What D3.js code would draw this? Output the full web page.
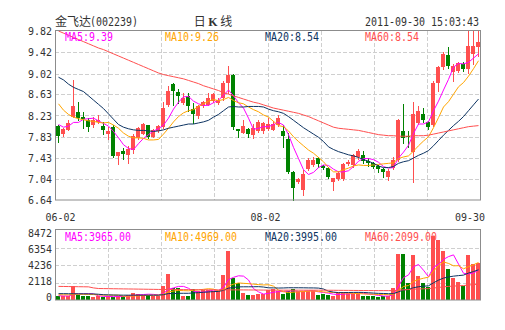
<!DOCTYPE html>
<html>
<head>
<meta charset="utf-8">
<script src="https://cdn.jsdelivr.net/npm/d3@7"></script>
<style>
  body { margin: 0; background: #fff; }
  svg { display: block; }
</style>
</head>
<body>
<svg id="chart" width="505" height="330"></svg>
<script>
// ---- data: 金飞达 (002239) daily K line, 2011-06-02 .. 2011-09-30 ----
const dates = [
  "06-02","06-03","06-07","06-08","06-09","06-10","06-13","06-14","06-15","06-16",
  "06-17","06-20","06-21","06-22","06-23","06-24","06-27","06-28","06-29","06-30",
  "07-01","07-04","07-05","07-06","07-07","07-08","07-11","07-12","07-13","07-14",
  "07-15","07-18","07-19","07-20","07-21","07-22","07-25","07-26","07-27","07-28",
  "07-29","08-01","08-02","08-03","08-04","08-05","08-08","08-09","08-10","08-11",
  "08-12","08-15","08-16","08-17","08-18","08-19","08-22","08-23","08-24","08-25",
  "08-26","08-29","08-30","08-31","09-01","09-02","09-05","09-06","09-07","09-08",
  "09-09","09-13","09-14","09-15","09-16","09-19","09-20","09-21","09-22","09-23",
  "09-26","09-27","09-28","09-29","09-30"
];
const open = [
  8.04,7.89,7.96,8.21,8.30,8.21,8.14,8.05,8.11,8.04,
  7.88,8.01,7.47,7.56,7.49,7.58,7.80,7.89,8.05,7.83,
  7.93,8.01,8.43,8.82,8.68,8.46,8.60,8.35,8.22,8.41,
  8.43,8.50,8.47,8.55,8.84,9.00,7.98,7.91,7.98,7.86,
  7.94,7.93,7.98,7.96,8.05,7.93,7.79,7.17,6.98,6.83,
  7.22,7.30,7.43,7.28,7.24,6.98,7.03,7.03,7.32,7.29,
  7.45,7.48,7.38,7.33,7.28,7.22,7.08,7.24,7.39,7.94,
  7.84,7.54,8.09,8.26,8.10,8.05,8.84,9.15,9.37,9.04,
  9.07,9.20,9.10,9.39,9.51
];
const high = [
  8.06,7.99,8.15,8.90,8.49,8.30,8.18,8.20,8.23,8.11,
  8.01,8.05,7.55,7.61,7.66,7.88,8.01,8.09,8.06,7.97,
  8.06,8.49,8.79,8.84,8.73,8.65,8.66,8.46,8.43,8.50,
  8.65,8.66,8.56,8.87,9.16,9.01,7.98,8.15,7.99,8.07,
  8.15,8.10,8.18,8.12,8.24,8.05,7.90,7.18,7.05,7.20,
  7.43,7.44,7.45,7.30,7.26,7.06,7.18,7.33,7.40,7.50,
  7.60,7.57,7.43,7.36,7.30,7.24,7.22,7.45,8.17,8.45,
  7.94,8.49,8.40,8.37,8.12,8.87,9.17,9.42,9.51,9.19,
  9.24,9.23,9.82,9.82,9.82
];
const low = [
  7.74,7.85,7.95,8.20,8.15,7.99,7.94,8.01,8.08,7.88,
  7.79,7.44,7.32,7.41,7.33,7.53,7.79,7.88,7.81,7.82,
  7.92,7.99,8.40,8.43,8.46,8.44,8.31,8.09,8.18,8.39,
  8.42,8.49,8.45,8.53,8.65,7.98,7.82,7.90,7.82,7.80,
  7.92,7.90,7.96,7.95,8.03,7.64,7.15,6.64,6.96,6.73,
  7.20,7.28,7.27,7.22,7.06,6.83,7.02,7.02,7.30,7.27,
  7.41,7.33,7.28,7.24,7.17,7.07,7.02,7.23,7.37,7.71,
  7.64,6.98,8.07,8.10,7.98,8.03,8.70,9.10,9.12,8.88,
  9.05,9.06,9.03,9.20,9.35
];
const close = [
  7.84,7.97,8.09,8.41,8.19,8.16,8.01,8.14,8.14,7.95,
  7.93,7.47,7.54,7.50,7.60,7.85,7.99,8.07,7.82,7.96,
  8.04,8.38,8.69,8.69,8.60,8.56,8.41,8.25,8.41,8.48,
  8.56,8.63,8.53,8.84,9.00,8.02,7.94,8.04,7.88,7.99,
  8.10,8.08,8.07,8.07,8.18,7.85,7.17,6.87,7.03,7.13,
  7.39,7.40,7.31,7.25,7.08,7.05,7.14,7.32,7.35,7.48,
  7.57,7.37,7.33,7.27,7.23,7.16,7.19,7.40,8.15,7.80,
  7.82,8.26,8.32,8.15,8.02,8.85,9.15,9.38,9.16,9.17,
  9.21,9.10,9.53,9.54,9.61
];
const volume = [
  574,486,486,1810,706,574,574,397,486,397,
  486,441,486,486,706,927,794,706,706,574,
  574,1810,3442,1589,1589,574,574,1456,1147,1368,
  1368,1236,1147,3266,6443,2913,2251,927,706,706,
  794,794,1368,1456,1147,794,1147,1412,1147,1236,
  1147,1147,706,794,706,486,927,1000,927,927,
  927,574,574,574,397,486,574,1589,6090,6090,
  2251,5958,3138,2251,1784,8472,7944,6421,4100,2930,
  2383,1854,5958,4766,4864
];
// price moving averages
const ma5 = [
  8.06,8.01,8.03,8.10,8.10,8.16,8.17,8.18,8.13,8.08,
  8.03,7.93,7.81,7.68,7.61,7.59,7.70,7.80,7.87,7.94,
  7.98,8.05,8.18,8.35,8.48,8.58,8.59,8.50,8.45,8.42,
  8.42,8.47,8.52,8.61,8.71,8.60,8.47,8.37,8.18,7.97,
  7.99,8.02,8.02,8.06,8.10,8.05,7.87,7.63,7.42,7.21,
  7.12,7.16,7.25,7.30,7.29,7.22,7.17,7.17,7.19,7.27,
  7.37,7.42,7.42,7.40,7.35,7.27,7.24,7.25,7.43,7.54,
  7.67,7.89,8.07,8.07,8.11,8.32,8.50,8.71,8.91,9.14,
  9.21,9.20,9.23,9.31,9.39
];
const ma10 = [
  8.45,8.33,8.25,8.20,8.17,8.15,8.13,8.12,8.10,8.09,
  8.10,8.05,7.99,7.90,7.84,7.81,7.81,7.80,7.77,7.77,
  7.78,7.88,7.99,8.11,8.21,8.28,8.32,8.34,8.40,8.45,
  8.50,8.53,8.51,8.53,8.57,8.51,8.47,8.45,8.39,8.34,
  8.30,8.24,8.20,8.12,8.04,8.02,7.94,7.83,7.74,7.66,
  7.58,7.52,7.44,7.36,7.25,7.17,7.17,7.21,7.24,7.28,
  7.30,7.29,7.29,7.30,7.31,7.32,7.33,7.34,7.42,7.45,
  7.47,7.56,7.66,7.75,7.83,8.00,8.19,8.39,8.49,8.63,
  8.77,8.85,8.97,9.11,9.26
];
const ma20 = [
  8.95,8.90,8.82,8.76,8.72,8.68,8.60,8.52,8.44,8.36,
  8.26,8.16,8.06,8.01,7.98,7.96,7.95,7.95,7.94,7.93,
  7.94,7.96,7.99,8.01,8.03,8.05,8.07,8.07,8.09,8.11,
  8.14,8.20,8.25,8.32,8.39,8.40,8.39,8.39,8.40,8.40,
  8.40,8.39,8.35,8.32,8.30,8.27,8.21,8.14,8.07,8.00,
  7.94,7.88,7.82,7.74,7.64,7.59,7.55,7.52,7.49,7.47,
  7.44,7.40,7.37,7.33,7.28,7.25,7.25,7.27,7.33,7.36,
  7.38,7.43,7.48,7.52,7.57,7.66,7.76,7.86,7.95,8.04,
  8.12,8.21,8.32,8.43,8.54
];
const ma60 = [
  9.82,9.78,9.74,9.70,9.66,9.62,9.58,9.54,9.50,9.47,
  9.43,9.39,9.35,9.31,9.27,9.23,9.19,9.15,9.11,9.07,
  9.03,9.00,8.98,8.96,8.94,8.92,8.89,8.86,8.83,8.79,
  8.76,8.73,8.70,8.66,8.63,8.60,8.57,8.54,8.51,8.48,
  8.46,8.43,8.40,8.37,8.35,8.33,8.31,8.29,8.27,8.24,
  8.21,8.17,8.13,8.09,8.05,8.01,7.99,7.98,7.97,7.96,
  7.95,7.93,7.91,7.89,7.87,7.86,7.85,7.85,7.84,7.84,
  7.84,7.85,7.85,7.85,7.86,7.88,7.90,7.92,7.94,7.96,
  7.98,8.00,8.02,8.03,8.04
];
// volume moving averages
const volMa5 = [
  560,540,520,780,812,812,830,812,547,486,
  468,441,459,459,521,609,680,724,768,741,
  671,874,1421,1598,1801,1801,1554,1156,1068,1024,
  1183,1315,1253,1677,2692,3001,3204,3160,2648,1501,
  1077,785,874,1024,1112,1112,1182,1191,1129,1147,
  1218,1218,1077,1006,900,768,724,783,809,853,
  942,871,786,715,609,521,521,724,1827,2966,
  3319,4396,4705,3938,3076,4321,4718,5374,5744,5973,
  4756,3538,3445,3578,3965
];
const volMa10 = [
  700,690,680,760,760,750,740,720,680,649,
  640,636,636,503,504,539,561,592,614,631,
  640,777,1073,1183,1271,1236,1214,1289,1333,1413,
  1492,1435,1205,1373,1858,2092,2260,2207,2163,2097,
  2039,1995,2017,1836,1307,1095,984,1033,1077,1130,
  1165,1200,1134,1068,1024,993,971,930,908,877,
  855,798,785,762,731,732,696,755,1271,1788,
  1920,2459,2715,2883,3021,3820,4557,5040,4841,4525,
  4539,4128,4410,4661,4969
];
const volMa20 = [
  840,840,830,830,820,820,810,800,760,700,
  680,660,650,640,640,640,640,640,640,640,
  640,707,855,843,888,888,888,941,974,1022,
  1066,1106,1139,1278,1565,1664,1737,1748,1748,1755,
  1766,1715,1611,1605,1583,1594,1622,1620,1620,1614,
  1602,1598,1576,1452,1166,1044,978,982,993,1004,
  1010,999,960,915,878,863,834,843,1090,1333,
  1388,1629,1750,1823,1876,2276,2627,2898,3056,3157,
  3230,3294,3563,3772,3995
];
const volMa60 = [
  1800,1790,1780,1770,1760,1750,1740,1600,1520,1510,
  1500,1490,1480,1470,1460,1450,1440,1430,1420,1410,
  1400,1395,1390,1385,1380,1375,1370,1365,1360,1355,
  1350,1345,1340,1340,1340,1340,1340,1335,1330,1325,
  1320,1315,1310,1305,1300,1300,1300,1300,1300,1300,
  1300,1300,1300,1295,1290,1285,1280,1275,1270,1265,
  1260,1255,1250,1245,1240,1240,1240,1245,1300,1350,
  1380,1430,1460,1480,1500,1580,1660,1740,1800,1840,
  1880,1910,1980,2040,2099
];
// axis labels and legend readouts
const priceTicks = [6.64, 7.04, 7.43, 7.83, 8.23, 8.63, 9.02, 9.42, 9.82];
const volTicks = [0, 2118, 4236, 6354, 8472];
const dateTicks = ["06-02", "08-02", "09-30"];
const priceLegend = [["MA5", 9.39], ["MA10", 9.26], ["MA20", 8.54], ["MA60", 8.54]];
const volLegend = [["MA5", 3965], ["MA10", 4969], ["MA20", 3995], ["MA60", 2099]];

// ---- drawing ----
const svg = d3.select("#chart");
const L = 55, R = 480;
const pTop = 31, pBot = 200, vTop = 230, vBot = 300;
const UP = "#ff4f4f", DOWN = "#008200", GRID = "#cfcfcf", FRAME = "#8c8c8c", TEXT = "#333";
const maColors = ["#ff00ff", "#ffa500", "#0e3462", "#ff4f4f"];
const MONO = "'DejaVu Sans Mono', monospace";
const CJK = "'Noto Sans CJK SC', sans-serif";

const idx = d3.range(dates.length);
const x = d3.scaleBand().domain(idx).range([L, R]).paddingInner(0.2).paddingOuter(0.1);
const bx = i => x(i) + 0.5;          // body left edge
const cx = i => x(i) + 3;            // wick / line centre
const y = d3.scaleLinear().domain([6.64, 9.82]).range([pBot, pTop]);
const yv = d3.scaleLinear().domain([0, 8472]).range([vBot, vBot - 64]);
const yvLabel = d3.scaleLinear().domain([0, 8472]).range([vBot - 3.5, vTop + 2.8]);

function mono(g, s, px, py, anchor, color, size) {
  return g.append("text").text(s)
    .attr("x", px).attr("y", py)
    .attr("text-anchor", anchor || "start")
    .attr("fill", color || TEXT)
    .attr("font-family", MONO)
    .attr("font-size", size || 11)
    .attr("textLength", s.length * 6)
    .attr("lengthAdjust", "spacingAndGlyphs");
}

// header
const head = svg.append("g");
head.append("text").text("金飞达").attr("x", L).attr("y", 26)
  .attr("font-family", CJK).attr("font-size", 12).attr("fill", TEXT);
mono(head, "(002239)", 90, 26, "start", TEXT, 11.5);
const kt = head.append("text").attr("x", 213).attr("y", 26).attr("text-anchor", "middle")
  .attr("font-family", CJK).attr("font-size", 12).attr("fill", TEXT);
kt.append("tspan").text("日 ");
kt.append("tspan").text("K").attr("font-weight", "bold").attr("font-family", "'Liberation Serif', serif");
kt.append("tspan").text(" 线");
mono(head, "2011-09-30 15:03:43", 479, 26, "end", TEXT, 11.5);

// grids
function grid(top, bot, rows) {
  const g = svg.append("g").attr("stroke", GRID).attr("stroke-dasharray", "4,2").attr("shape-rendering", "crispEdges");
  for (let k = 1; k < 8; k++) {
    const gx = Math.round(L + (R - L) * k / 8) + 0.5;
    g.append("line").attr("x1", gx).attr("x2", gx).attr("y1", top).attr("y2", bot);
  }
  rows.forEach(gy => g.append("line").attr("x1", L).attr("x2", R).attr("y1", gy).attr("y2", gy));
}
grid(pTop, pBot, priceTicks.slice(1, -1).map(v => Math.round(y(v)) + 0.5));
grid(vTop, vBot, [1, 2, 3].map(k => Math.round(vBot - (vBot - vTop) * k / 4) + 0.5));

// price axis labels
const pAxis = svg.append("g");
priceTicks.forEach(v => mono(pAxis, v.toFixed(2), 52, y(v) + 4, "end"));
// volume axis labels
const vAxis = svg.append("g");
volTicks.forEach(v => mono(vAxis, String(v), 52, yvLabel(v) + 4, "end"));
// date labels
const dAxis = svg.append("g");
const dateShift = { "06-02": 2, "08-02": -3, "09-30": -8.5 };
dateTicks.forEach(d => {
  const i = dates.indexOf(d);
  mono(dAxis, d, cx(i) + dateShift[d], 220.5, "middle");
});

// candles
const up = i => close[i] >= open[i];
const cg = svg.append("g").attr("shape-rendering", "crispEdges");
idx.forEach(i => {
  const col = up(i) ? UP : DOWN;
  cg.append("line").attr("x1", cx(i)).attr("x2", cx(i))
    .attr("y1", Math.round(y(high[i]))).attr("y2", Math.round(y(low[i])) + 1)
    .attr("stroke", col);
  const t = Math.round(y(Math.max(open[i], close[i])));
  const b = Math.round(y(Math.min(open[i], close[i])));
  cg.append("rect").attr("x", bx(i)).attr("width", x.bandwidth())
    .attr("y", t).attr("height", Math.max(1, b - t)).attr("fill", col);
});

// volume bars
const vg = svg.append("g").attr("shape-rendering", "crispEdges");
idx.forEach(i => {
  const t = Math.round(yv(volume[i]));
  vg.append("rect").attr("x", bx(i)).attr("width", x.bandwidth())
    .attr("y", t).attr("height", Math.max(1, vBot - t)).attr("fill", up(i) ? UP : DOWN);
});

// moving-average lines
function maLine(series, scale, color) {
  const ln = d3.line().x((d, i) => cx(i)).y(d => scale(d));
  svg.append("path").attr("d", ln(series)).attr("fill", "none")
    .attr("stroke", color).attr("stroke-width", 1);
}
[ma5, ma10, ma20, ma60].forEach((s, k) => maLine(s, y, maColors[k]));
[volMa5, volMa10, volMa20, volMa60].forEach((s, k) => maLine(s, yv, maColors[k]));

// frames
svg.append("rect").attr("x", L + 0.5).attr("y", pTop - 0.5).attr("width", R - L).attr("height", pBot - pTop + 0.5)
  .attr("fill", "none").attr("stroke", FRAME);
svg.append("rect").attr("x", L + 0.5).attr("y", vTop - 0.5).attr("width", R - L).attr("height", vBot - vTop + 0.5)
  .attr("fill", "none").attr("stroke", FRAME);

// legends
const lg = svg.append("g");
priceLegend.forEach(([name, v], k) => mono(lg, name + ":" + v.toFixed(2), 65 + 100 * k, 41, "start", maColors[k], 11.5));
volLegend.forEach(([name, v], k) => mono(lg, name + ":" + v.toFixed(2), 65 + 100 * k, 240.5, "start", maColors[k], 11.5));
</script>
</body>
</html>
